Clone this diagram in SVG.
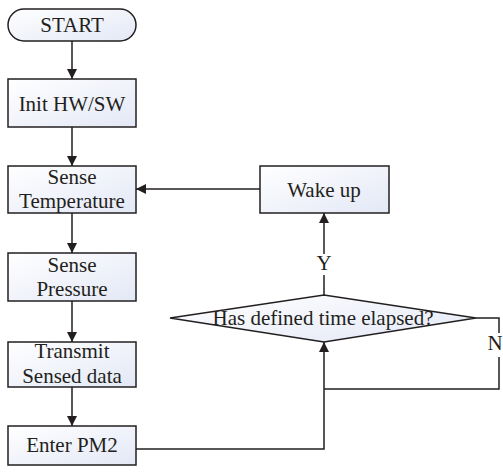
<svg xmlns="http://www.w3.org/2000/svg" width="503" height="473" viewBox="0 0 503 473">
<defs>
<linearGradient id="g" x1="0" y1="0" x2="1" y2="1">
<stop offset="0" stop-color="#ffffff"/>
<stop offset="1" stop-color="#e3e8f6"/>
</linearGradient>
<marker id="a" viewBox="0 0 10 10" refX="10" refY="5" markerWidth="10" markerHeight="10" markerUnits="userSpaceOnUse" orient="auto">
<path d="M0,0 L10,5 L0,10 Z" fill="#231f20"/>
</marker>
<style>
.n{fill:url(#g);stroke:#231f20;stroke-width:1.5}
.t{font-size:21px;fill:#231f20;text-anchor:middle}
.c{fill:none;stroke:#231f20;stroke-width:1.5}
</style>
</defs>
<rect width="503" height="473" fill="#ffffff"/>
<g font-family="'Liberation Serif', 'Times New Roman', Times, serif">
<g id="connectors">
<line class="c" x1="72" y1="41" x2="72" y2="79" marker-end="url(#a)"/>
<line class="c" x1="72" y1="127" x2="72" y2="166" marker-end="url(#a)"/>
<line class="c" x1="72" y1="213" x2="72" y2="253" marker-end="url(#a)"/>
<line class="c" x1="72" y1="301" x2="72" y2="342" marker-end="url(#a)"/>
<line class="c" x1="72" y1="387" x2="72" y2="426" marker-end="url(#a)"/>
<line class="c" x1="260" y1="189" x2="136" y2="189" marker-end="url(#a)"/>
<polyline class="c" points="324,295 324,275"/>
<line class="c" x1="324" y1="254" x2="324" y2="213" marker-end="url(#a)"/>
<polyline class="c" points="476,318 499,318 499,333"/>
<polyline class="c" points="499,357 499,389 324,389"/>
<polyline class="c" points="136,449 324,449 324,342" marker-end="url(#a)"/>
<text class="t" x="324" y="270">Y</text>
<text class="t" x="495" y="350">N</text>
</g>
<g id="start">
<rect class="n" x="8" y="9" width="128" height="32" rx="16" ry="16"/>
<text class="t" x="72" y="32">START</text>
</g>
<g id="init">
<rect class="n" x="8" y="79" width="128" height="48"/>
<text class="t" x="72" y="111">Init HW/SW</text>
</g>
<g id="sense-temp">
<rect class="n" x="8" y="166" width="128" height="47"/>
<text class="t" x="72" y="184">Sense</text>
<text class="t" x="72" y="208">Temperature</text>
</g>
<g id="sense-pressure">
<rect class="n" x="8" y="253" width="128" height="48"/>
<text class="t" x="72" y="272">Sense</text>
<text class="t" x="72" y="296">Pressure</text>
</g>
<g id="transmit">
<rect class="n" x="8" y="342" width="128" height="45"/>
<text class="t" x="72" y="358">Transmit</text>
<text class="t" x="72" y="383">Sensed data</text>
</g>
<g id="enter-pm2">
<rect class="n" x="8" y="426" width="128" height="39"/>
<text class="t" x="72" y="452">Enter PM2</text>
</g>
<g id="wake-up">
<rect class="n" x="260" y="166" width="129" height="47"/>
<text class="t" x="324" y="197">Wake up</text>
</g>
<g id="decision">
<polygon class="n" points="170,318 324,295 476,318 324,342"/>
<text class="t" x="323" y="325">Has defined time elapsed?</text>
</g>
</g>
</svg>
